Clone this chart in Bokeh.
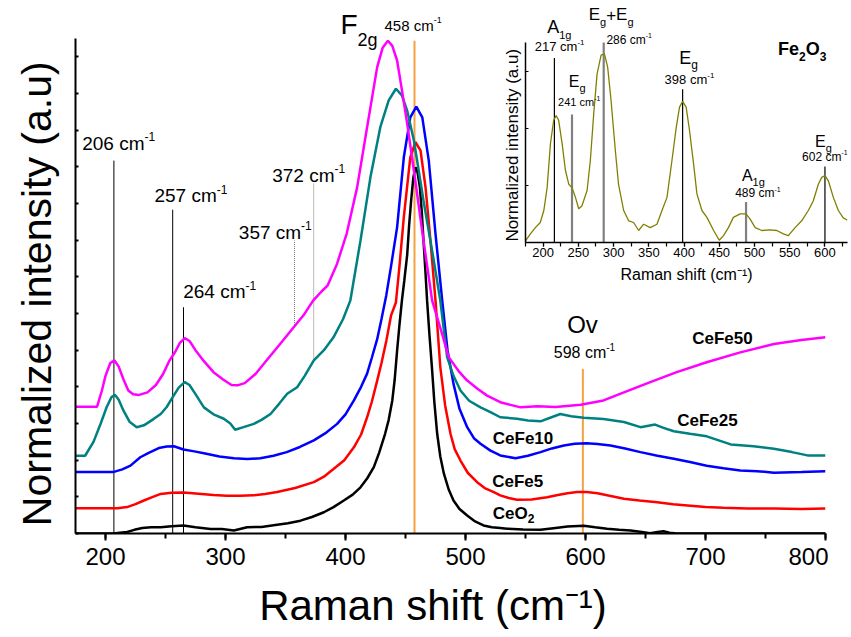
from bokeh.plotting import figure
from bokeh.models import Range1d, Label, SingleIntervalTicker
from bokeh.layouts import column
from bokeh.embed import file_html
from bokeh.resources import INLINE

FONT = "Liberation Sans"
NB = "\u00a0"
BASE_FIX = 0.33   # compensates the renderer's baseline placement (fraction of font size)

# ---------------- main spectra (Raman shift, normalized intensity) ----------------
cefe50_x = [175, 193, 197, 200, 204, 207.5, 211, 215, 219, 223, 228, 235, 242, 248, 253, 258, 262, 266, 270, 275,
            282, 290, 298, 305, 310, 316, 325, 335, 345, 357, 365, 373, 380, 385, 393, 401, 409.7, 418, 426.4, 431,
            435.3, 439, 443, 447, 451.4, 457, 465, 472.2, 480, 486, 495, 501.4, 510, 518, 529, 546, 560, 575, 596,
            615, 632, 654, 676, 701, 729, 757, 780, 800]
cefe50_y = [3.46, 3.46, 3.9, 4.3, 4.65, 4.72, 4.55, 4.2, 3.9, 3.8, 3.78, 3.85, 4.05, 4.35, 4.7, 4.95, 5.2, 5.33, 5.25, 5.0,
            4.7, 4.4, 4.2, 4.05, 4.04, 4.1, 4.35, 4.75, 5.15, 5.63, 5.95, 6.35, 6.6, 6.76, 7.36, 8.18, 9.44, 11.08, 12.72, 13.25,
            13.44, 13.3, 12.9, 12.1, 11.18, 9.9, 7.99, 6.35, 5.5, 4.81, 4.4, 4.17, 3.95, 3.76, 3.58, 3.44, 3.47, 3.45, 3.51,
            3.63, 3.85, 4.13, 4.40, 4.67, 4.94, 5.17, 5.28, 5.35]

cefe25_x = [175, 183, 190, 196, 201, 205, 208, 211, 215, 220, 226, 232, 240, 246, 251, 256, 261, 266, 270, 275,
            282, 290, 298.6, 304, 308, 315, 323.6, 330, 337.5, 345, 351.4, 359.7, 366, 373.6, 382, 390, 398, 404,
            412.5, 420.8, 429, 436, 442, 447, 451.4, 457, 465, 473.6, 479, 484.7, 490, 495.8, 503, 512.5, 520.8, 529,
            543, 552, 562.5, 570, 579, 588, 598.6, 615, 632, 645.8, 658, 665, 673.6, 687, 701, 721, 740, 757, 772, 785, 800]
cefe25_y = [2.12, 2.12, 2.5, 3.0, 3.45, 3.72, 3.78, 3.65, 3.35, 3.05, 2.9, 2.95, 3.12, 3.26, 3.45, 3.72, 3.98, 4.13, 4.05, 3.8,
            3.44, 3.25, 3.13, 3.0, 2.83, 2.9, 2.99, 3.1, 3.26, 3.55, 3.81, 3.99, 4.3, 4.72, 5.0, 5.35, 5.85, 6.35,
            7.99, 9.72, 11.08, 11.81, 12.13, 11.95, 11.53, 10.72, 9.08, 7.44, 6.35, 4.81, 4.3, 3.9, 3.62, 3.44, 3.31, 3.17,
            3.13, 3.08, 3.06, 3.15, 3.26, 3.2, 3.16, 3.12, 3.04, 2.90, 2.97, 2.88, 2.79, 2.72, 2.65, 2.43, 2.38, 2.31, 2.22, 2.13, 2.13]

cefe10_x = [175, 207, 214, 220.8, 229, 236, 244.4, 251, 257, 265, 274, 282, 295, 307, 318, 329, 340, 351, 362, 373.6,
            383, 393, 400, 407, 413, 418, 422, 426.4, 430, 434, 438, 443, 448.6, 454, 459, 464, 469.4, 475, 480.6, 485,
            490, 495, 501.4, 507, 512.5, 520.8, 529, 541.7, 552, 562.5, 572, 582, 591, 601, 610, 620.8, 633, 645.8,
            660, 673.6, 687, 701, 715, 729, 743, 757, 780, 800]
cefe10_y = [1.68, 1.68, 1.75, 1.85, 2.08, 2.2, 2.33, 2.37, 2.38, 2.29, 2.24, 2.19, 2.1, 2.05, 2.03, 2.05, 2.12, 2.22, 2.36, 2.54,
            2.73, 2.99, 3.25, 3.63, 4.0, 4.36, 4.8, 5.3, 5.85, 6.5, 7.3, 8.35, 10.26, 11.35, 11.64, 11.35, 10.17, 8.17, 6.35, 5.0,
            4.08, 3.4, 2.90, 2.6, 2.45, 2.26, 2.13, 2.05, 2.12, 2.22, 2.32, 2.40, 2.45, 2.46, 2.44, 2.40, 2.32, 2.22,
            2.12, 2.04, 1.95, 1.85, 1.78, 1.72, 1.70, 1.66, 1.68, 1.70]

cefe5_x = [175, 210, 218, 225, 232, 239, 246, 255, 265, 280, 290, 301, 312, 323.6, 333, 343, 358, 373.6, 382, 390,
           399, 407, 413, 418, 422, 426.4, 430, 434, 438, 442, 445, 448.6, 454, 458.3, 462.5, 466.7, 470.8, 475, 479,
           483, 487.5, 491, 495.8, 502, 509.7, 516, 523.6, 529, 536, 543, 555, 568, 577, 585, 593, 601, 610, 620,
           632, 645, 659.7, 673, 687.5, 700, 715, 735, 757, 780, 800]
cefe5_y = [0.69, 0.69, 0.72, 0.8, 0.9, 0.99, 1.08, 1.11, 1.12, 1.08, 1.05, 1.03, 1.03, 1.04, 1.08, 1.13, 1.24, 1.40, 1.55, 1.76,
           2.0, 2.35, 2.7, 3.17, 3.6, 4.17, 4.65, 5.25, 5.95, 6.3, 7.3, 8.63, 10.26, 10.67, 10.45, 9.44, 7.99, 6.35, 4.54,
           3.5, 2.72, 2.3, 1.99, 1.65, 1.40, 1.24, 1.13, 1.04, 0.97, 0.92, 0.93, 0.99, 1.05, 1.10, 1.13, 1.13, 1.1, 1.03,
           0.95, 0.9, 0.85, 0.8, 0.76, 0.72, 0.70, 0.68, 0.68, 0.67, 0.68]

ceo2_x = [175, 207, 212, 218, 224, 230.6, 238, 246, 255, 265, 275, 287.5, 297, 307, 318, 330, 343, 352, 362.5, 372,
          382, 390, 398.6, 406, 412.5, 418, 423.6, 428, 433, 436, 439, 441, 443, 445, 447, 449, 451.4, 453, 454.7,
          456.5, 458.3, 460, 462, 463.5, 465, 466.5, 468, 470, 472, 474, 476.4, 479, 482, 486, 490, 495, 501.4, 508,
          515, 522, 529, 534.7, 548, 562.5, 575, 585, 598.6, 608, 618, 628, 637.5, 647, 654, 660, 665, 670, 676, 800]
ceo2_y = [0, 0, 0.02, 0.04, 0.1, 0.15, 0.17, 0.17, 0.2, 0.22, 0.17, 0.12, 0.12, 0.08, 0.17, 0.18, 0.24, 0.28, 0.35, 0.45,
          0.58, 0.72, 0.90, 1.06, 1.26, 1.5, 1.81, 2.2, 2.72, 3.1, 3.63, 4.2, 4.99, 5.7, 6.35, 6.9, 7.6, 8.4, 9.08,
          9.7, 9.99, 9.85, 9.44, 8.8, 7.99, 7.2, 6.35, 5.4, 4.54, 3.6, 2.72, 2.1, 1.63, 1.2, 0.90, 0.67, 0.49, 0.33,
          0.22, 0.17, 0.15, 0.13, 0.11, 0.10, 0.15, 0.19, 0.21, 0.17, 0.13, 0.1, 0.08, 0.04, 0.01, 0.04, 0.06, 0.02, 0, 0]

# ---------------- inset: Fe2O3 ----------------
fe2o3_x = [175, 182, 189, 196, 201, 205.7, 210.4, 215, 218.5, 222, 227, 231.7, 236.4, 241, 245.9, 250.5, 255, 262.4,
           267, 271.8, 276.6, 282.3, 287, 291.6, 296.4, 302.5, 307, 314.3, 321.4, 328.5, 335.6, 342.6, 352, 361.6,
           368.7, 375.8, 382.8, 389, 393.6, 398, 403, 407.8, 413.5, 418.3, 425.4, 432.5, 442, 450, 456, 463, 470,
           479.7, 488, 493.8, 501, 510.4, 522, 531.6, 541, 548, 557.6, 567, 576.4, 583.5, 590.6, 595.4, 600.1, 604.8,
           611.9, 619, 626, 632]
fe2o3_y = [0.03, 0.15, 0.26, 0.35, 0.56, 0.96, 1.73, 2.14, 2.22, 2.14, 1.73, 1.26, 1.02, 0.96, 0.79, 0.59, 0.64, 0.91,
           1.43, 2.25, 2.95, 3.28, 3.30, 3.07, 2.49, 1.61, 1.02, 0.56, 0.38, 0.35, 0.21, 0.32, 0.26, 0.32,
           0.56, 0.79, 1.43, 2.02, 2.37, 2.47, 2.37, 1.96, 1.38, 0.85, 0.56, 0.44, 0.21, 0.04, 0.12, 0.26, 0.44,
           0.50, 0.50, 0.41, 0.26, 0.21, 0.22, 0.21, 0.15, 0.12, 0.26, 0.38, 0.56, 0.73, 1.02, 1.14, 1.17, 1.08,
           0.79, 0.56, 0.43, 0.39]

# ---------------- helpers for rich text ----------------
CW = {str(d): 0.556 for d in range(10)}
CW.update({' ': 0.278, 'c': 0.5, 'm': 0.833, '-': 0.333, '+': 0.584, 'A': 0.667, 'E': 0.667, 'F': 0.611,
           'O': 0.778, 'C': 0.722, 'e': 0.556, 'g': 0.556, 'v': 0.5})


def twidth(s, size):
    return sum(CW.get(ch, 0.556) for ch in s) * size


def rich(fig, x, y, parts, color="black"):
    """parts: (text, size_px, raise_px, bold)"""
    off = 0.0
    for t, size, dy, bold in parts:
        fig.add_layout(Label(x=x, y=y, x_offset=off, y_offset=dy + BASE_FIX * size, text=t, text_font=FONT,
                             text_font_size=f"{size}px", text_font_style="bold" if bold else "normal",
                             text_align="left", text_baseline="alphabetic", text_color=color))
        off += twidth(t, size)


def cm_label(fig, x, y, num, size):
    rich(fig, x, y, [(f"{num} cm", size, 0, False), ("-1", round(size * 0.62), round(size * 0.47), False)])


# ---------------- main figure ----------------
p = figure(frame_width=750, frame_height=525, x_range=Range1d(175, 800), y_range=Range1d(0, 525 / (495 / 13.5)),
           output_backend="svg", toolbar_location=None, min_border_left=75, min_border_right=3,
           min_border_top=8, min_border_bottom=100, background_fill_color="white", border_fill_color="white")
p.outline_line_color = None
p.grid.visible = False

# reference lines
p.segment(x0=[207, 256, 265], y0=[0, 0, 0], x1=[207, 256, 265], y1=[10.17, 8.83, 6.17],
          line_color="black", line_width=1)
p.segment(x0=[357.5, 373.5], y0=[5.63, 4.72], x1=[357.5, 373.5], y1=[7.99, 9.54],
          line_color="#777777", line_width=1, line_dash="1 1")
p.segment(x0=[457.5, 597.8], y0=[0, 0], x1=[457.5, 597.8], y1=[13.44, 4.49],
          line_color="#f5a142", line_width=2)

series = [(ceo2_x, ceo2_y, "black"), (cefe5_x, cefe5_y, "#ff0000"), (cefe10_x, cefe10_y, "#0000ff"),
          (cefe25_x, cefe25_y, "#008080"), (cefe50_x, cefe50_y, "#ff00ff")]
for xs, ys, c in series:
    p.line(xs, ys, line_color=c, line_width=2.5)

# axes
p.xaxis.ticker = SingleIntervalTicker(interval=100, num_minor_ticks=2)
p.xaxis.axis_label = "Raman shift (cm⁻¹)" + NB * 3
p.xaxis.axis_label_text_font = FONT
p.xaxis.axis_label_text_font_size = "42px"
p.xaxis.axis_label_text_font_style = "normal"
p.xaxis.major_label_text_font = FONT
p.xaxis.major_label_text_font_size = "24px"
p.xaxis.major_tick_out = 7
p.xaxis.major_tick_in = 0
p.xaxis.minor_tick_out = 5
p.xaxis.minor_tick_in = 0
p.xaxis.major_label_standoff = 7
p.xaxis.axis_label_standoff = 14

p.yaxis.ticker = SingleIntervalTicker(interval=1, num_minor_ticks=0)
p.yaxis.bounds = (0, 13.5)
p.yaxis.major_label_overrides = {i: "" for i in range(16)}
p.yaxis.major_label_standoff = 0
p.yaxis.major_tick_in = 3
p.yaxis.major_tick_out = 0
p.yaxis.minor_tick_in = 0
p.yaxis.minor_tick_out = 0
p.yaxis.axis_label = "Normalized intensity (a.u)" + NB * 4
p.yaxis.axis_label_text_font = FONT
p.yaxis.axis_label_text_font_size = "41px"
p.yaxis.axis_label_text_font_style = "normal"
p.yaxis.axis_label_standoff = 16

for ax in (p.xaxis, p.yaxis):
    ax.axis_line_width = 2
    ax.major_tick_line_width = 2
    ax.minor_tick_line_width = 2
    ax.axis_line_color = "black"
    ax.major_label_text_color = "black"
    ax.axis_label_text_color = "black"

# annotations
cm_label(p, 180.6, 10.47, 206, 19)
cm_label(p, 240.8, 9.04, 257, 19)
cm_label(p, 264.75, 6.42, 264, 19)
cm_label(p, 311.1, 8.05, 357, 19)
cm_label(p, 338.9, 9.60, 372, 19)
cm_label(p, 432.5, 13.72, 458, 15)
rich(p, 395.8, 13.63, [("F", 28, 0, False), ("2g", 18, -12, False)])
rich(p, 584.7, 5.49, [("Ov", 24, 0, False)])
cm_label(p, 573.6, 4.79, 598, 16)
rich(p, 688.9, 5.17, [("CeFe50", 17, 0, True)])
rich(p, 676.4, 2.92, [("CeFe25", 17, 0, True)])
rich(p, 522.75, 2.45, [("CeFe10", 17, 0, True)])
rich(p, 522.25, 1.26, [("CeFe5", 17, 0, True)])
rich(p, 522.75, 0.40, [("CeO", 17, 0, True), ("2", 12, -4, True)])

# ---------------- inset figure ----------------
IN_PX = 200 / 3.5
q = figure(frame_width=322, frame_height=237, x_range=Range1d(175, 632), y_range=Range1d(0, 237 / IN_PX),
           output_backend="svg", toolbar_location=None, min_border_left=75, min_border_right=3,
           min_border_top=5, min_border_bottom=46, background_fill_color=None, border_fill_color=None)
q.outline_line_color = None
q.grid.visible = False

q.segment(x0=[216, 398, 600], y0=[0, 0, 0], x1=[216, 398, 600], y1=[3.23, 2.68, 1.33],
          line_color="black", line_width=1.2)
q.segment(x0=[241, 286, 488], y0=[0, 0, 0], x1=[241, 286, 488], y1=[2.24, 3.5, 0.71],
          line_color="#808080", line_width=2.2)
q.line(fe2o3_x, fe2o3_y, line_color="#808000", line_width=1.3)

q.xaxis.ticker = SingleIntervalTicker(interval=50, num_minor_ticks=2)
q.xaxis.axis_label = "Raman shift (cm⁻¹)"
q.xaxis.axis_label_text_font = FONT
q.xaxis.axis_label_text_font_size = "16px"
q.xaxis.axis_label_text_font_style = "normal"
q.xaxis.major_label_text_font = FONT
q.xaxis.major_label_text_font_size = "13px"
q.xaxis.major_tick_out = 4
q.xaxis.major_tick_in = 0
q.xaxis.minor_tick_out = 4
q.xaxis.minor_tick_in = 0
q.xaxis.major_label_standoff = 1
q.xaxis.axis_label_standoff = 6

q.yaxis.ticker = SingleIntervalTicker(interval=1, num_minor_ticks=0)
q.yaxis.bounds = (0, 3.5)
q.yaxis.major_label_overrides = {i: "" for i in range(6)}
q.yaxis.major_label_standoff = 0
q.yaxis.major_tick_in = 3
q.yaxis.major_tick_out = 0
q.yaxis.minor_tick_in = 0
q.yaxis.minor_tick_out = 0
q.yaxis.axis_label = "Normalized intensity (a.u)" + NB * 9
q.yaxis.axis_label_text_font = FONT
q.yaxis.axis_label_text_font_size = "17px"
q.yaxis.axis_label_text_font_style = "normal"
q.yaxis.axis_label_standoff = 4

for ax in (q.xaxis, q.yaxis):
    ax.axis_line_width = 1.5
    ax.major_tick_line_width = 1.2
    ax.minor_tick_line_width = 1.2
    ax.axis_line_color = "black"
    ax.major_label_text_color = "black"
    ax.axis_label_text_color = "black"

rich(q, 205.7, 3.66, [("A", 18, 0, False), ("1g", 11, -5, False)])
cm_label(q, 188.2, 3.35, 217, 13)
rich(q, 236.4, 2.72, [("E", 16, 0, False), ("g", 11, -5, False)])
cm_label(q, 221.3, 2.40, 241, 11)
rich(q, 264.7, 3.89, [("E", 17, 0, False), ("g", 11, -5, False), ("+", 17, 0, False),
                      ("E", 17, 0, False), ("g", 11, -5, False)])
cm_label(q, 289.8, 3.47, 286, 12)
rich(q, 393.2, 3.13, [("E", 18, 0, False), ("g", 12, -5, False)])
cm_label(q, 372.4, 2.78, 398, 13)
rich(q, 482.1, 1.08, [("A", 16, 0, False), ("1g", 11, -5, False)])
cm_label(q, 472.6, 0.79, 489, 12)
rich(q, 585.9, 1.67, [("E", 16, 0, False), ("g", 11, -5, False)])
cm_label(q, 567.5, 1.43, 602, 12)
rich(q, 533.5, 3.28, [("Fe", 18, 0, True), ("2", 12, -5, True), ("O", 18, 0, True), ("3", 12, -5, True)])

q.margin = (-633, 0, 0, 450)
layout = column(p, q)

open("out.html", "w").write(file_html(layout, INLINE))
